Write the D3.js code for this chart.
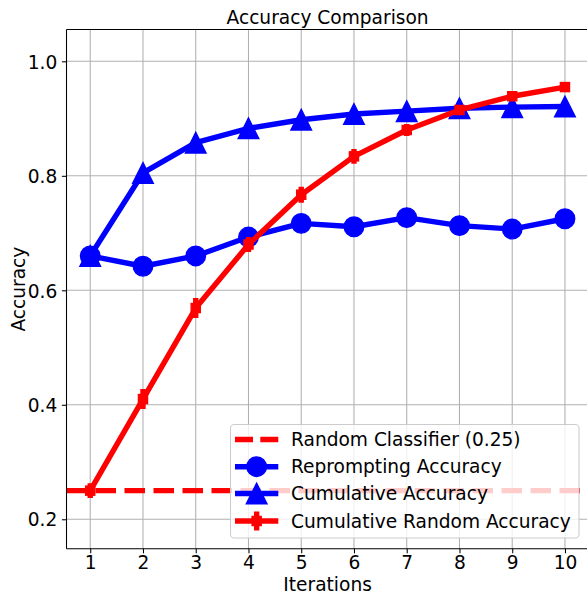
<!DOCTYPE html>
<html>
<head>
<meta charset="utf-8">
<script src="https://cdn.jsdelivr.net/npm/d3@7/dist/d3.min.js"></script>
<style>
  html, body { margin: 0; padding: 0; background: #fff; }
  svg { display: block; font-family: "DejaVu Sans", sans-serif; }
</style>
</head>
<body>
<svg id="chart" width="587" height="596"></svg>
<script>
// ---- data ----
const iterations = [1, 2, 3, 4, 5, 6, 7, 8, 9, 10];
const reprompting = [0.660, 0.642, 0.660, 0.693, 0.717, 0.711, 0.727, 0.713, 0.707, 0.725];
const cumulative = [0.660, 0.805, 0.858, 0.883, 0.898, 0.908, 0.913, 0.918, 0.920, 0.921];
const cumRandom = [0.250, 0.410, 0.569, 0.680, 0.767, 0.834, 0.880, 0.915, 0.939, 0.955];
const cumRandomErr = [0.013, 0.0175, 0.0175, 0.013, 0.014, 0.013, 0.0105, 0.007, 0.005, 0.004];
const randomBaseline = 0.25;
const yTicks = [0.2, 0.4, 0.6, 0.8, 1.0];
const xTicks = [1, 2, 3, 4, 5, 6, 7, 8, 9, 10];
const legendLabels = ["Random Classifier (0.25)", "Reprompting Accuracy", "Cumulative Accuracy", "Cumulative Random Accuracy"];
const titleText = "Accuracy Comparison";
const xLabel = "Iterations";
const yLabel = "Accuracy";

// ---- layout ----
const L = 66.5, T = 29.5, R = 588.7, B = 548.7;
const FS = 18.6;
const LW = 5.4;
const BLUE = "#0000ff", RED = "#ff0000";

const svg = d3.select("#chart");
const x = d3.scaleLinear().domain([0.55, 10.45]).range([L, R]);
const y = d3.scaleLinear().domain([0.1486, 1.0556]).range([B, T]);

svg.append("defs").append("clipPath").attr("id", "clip")
  .append("rect").attr("x", L).attr("y", T).attr("width", R - L).attr("height", B - T);

// grid
const grid = svg.append("g");
grid.selectAll(".gx").data(xTicks).enter().append("line")
  .attr("x1", d => x(d)).attr("x2", d => x(d)).attr("y1", T).attr("y2", B)
  .attr("stroke", "#b0b0b0").attr("stroke-width", 1.06);
grid.selectAll(".gy").data(yTicks).enter().append("line")
  .attr("x1", L).attr("x2", R).attr("y1", d => y(d)).attr("y2", d => y(d))
  .attr("stroke", "#b0b0b0").attr("stroke-width", 1.06);

// axes
const xAxis = svg.append("g").attr("transform", `translate(0,${B})`)
  .call(d3.axisBottom(x).tickValues(xTicks).tickSize(4.6).tickPadding(4.6).tickFormat(d3.format("d")));
const yAxis = svg.append("g").attr("transform", `translate(${L},0)`)
  .call(d3.axisLeft(y).tickValues(yTicks).tickSize(4.6).tickPadding(4.6).tickFormat(d3.format(".1f")));
[xAxis, yAxis].forEach(a => {
  a.select(".domain").remove();
  a.selectAll(".tick line").attr("stroke", "#000").attr("stroke-width", 1.06);
  a.selectAll(".tick text").attr("fill", "#000").style("font-size", FS + "px")
    .style("font-family", "DejaVu Sans, sans-serif");
});
xAxis.selectAll(".tick text").attr("dy", null).attr("y", 20.8);
yAxis.selectAll(".tick text").attr("dy", "0.36em");

const plot = svg.append("g").attr("clip-path", "url(#clip)");

// random classifier baseline
plot.append("line")
  .attr("x1", L).attr("x2", R).attr("y1", y(randomBaseline)).attr("y2", y(randomBaseline))
  .attr("stroke", RED).attr("stroke-width", LW).attr("stroke-dasharray", "20.5,8.5");

const line = d3.line().x((d, i) => x(iterations[i])).y(d => y(d));

// reprompting
plot.append("path").datum(reprompting).attr("d", line)
  .attr("fill", "none").attr("stroke", BLUE).attr("stroke-width", LW).attr("stroke-linejoin", "round");
plot.selectAll(".circ").data(reprompting).enter().append("circle")
  .attr("cx", (d, i) => x(iterations[i])).attr("cy", d => y(d)).attr("r", 9.8)
  .attr("fill", BLUE).attr("stroke", BLUE).attr("stroke-width", 1.3);

// cumulative
const tri = s => `M0,${-s}L${-s},${s}L${s},${s}Z`;
plot.append("path").datum(cumulative).attr("d", line)
  .attr("fill", "none").attr("stroke", BLUE).attr("stroke-width", LW).attr("stroke-linejoin", "round");
plot.selectAll(".tri").data(cumulative).enter().append("path")
  .attr("transform", (d, i) => `translate(${x(iterations[i])},${y(d)})`)
  .attr("d", tri(10.4)).attr("fill", BLUE).attr("stroke", BLUE).attr("stroke-width", 1.3);

// cumulative random with error bars
plot.append("path").datum(cumRandom).attr("d", line)
  .attr("fill", "none").attr("stroke", RED).attr("stroke-width", LW).attr("stroke-linejoin", "round");
plot.selectAll(".err").data(cumRandom).enter().append("line")
  .attr("x1", (d, i) => x(iterations[i])).attr("x2", (d, i) => x(iterations[i]))
  .attr("y1", (d, i) => y(d - cumRandomErr[i])).attr("y2", (d, i) => y(d + cumRandomErr[i]))
  .attr("stroke", RED).attr("stroke-width", LW);
plot.selectAll(".sq").data(cumRandom).enter().append("rect")
  .attr("x", (d, i) => x(iterations[i]) - 4.6).attr("y", d => y(d) - 4.6)
  .attr("width", 9.2).attr("height", 9.2)
  .attr("fill", RED).attr("stroke", RED).attr("stroke-width", 1.3);

// spines
svg.append("line").attr("x1", L).attr("x2", L).attr("y1", T).attr("y2", B).attr("stroke", "#000").attr("stroke-width", 1.06);
svg.append("line").attr("x1", L).attr("x2", R).attr("y1", B).attr("y2", B).attr("stroke", "#000").attr("stroke-width", 1.06);
svg.append("line").attr("x1", L).attr("x2", R).attr("y1", T).attr("y2", T).attr("stroke", "#000").attr("stroke-width", 1.06);
svg.append("line").attr("x1", R).attr("x2", R).attr("y1", T).attr("y2", B).attr("stroke", "#000").attr("stroke-width", 1.06);

// title and labels
svg.append("text").attr("x", (L + R) / 2).attr("y", 23.5).attr("text-anchor", "middle")
  .style("font-size", FS + "px").attr("fill", "#000").text(titleText);
svg.append("text").attr("x", (L + R) / 2).attr("y", 591).attr("text-anchor", "middle")
  .style("font-size", FS + "px").attr("fill", "#000").text(xLabel);
svg.append("text").attr("transform", `translate(24.5,${(T + B) / 2}) rotate(-90)`).attr("text-anchor", "middle")
  .style("font-size", FS + "px").attr("fill", "#000").text(yLabel);

// legend
const lg = svg.append("g");
lg.append("rect").attr("x", 230.5).attr("y", 424.5).attr("width", 348.5).attr("height", 113.5)
  .attr("rx", 3.7).attr("ry", 3.7)
  .attr("fill", "#fff").attr("fill-opacity", 0.8).attr("stroke", "#cccccc").attr("stroke-width", 1.06);
const rowY = [439.5, 466.7, 493.5, 521];
const hx1 = 235, hx2 = 278.3, hxc = (hx1 + hx2) / 2, tx = 291;
legendLabels.forEach((lab, i) => {
  const g = lg.append("g");
  const cy = rowY[i];
  const l = g.append("line").attr("x1", hx1).attr("x2", hx2).attr("y1", cy).attr("y2", cy)
    .attr("stroke", i === 0 || i === 3 ? RED : BLUE).attr("stroke-width", LW);
  if (i === 0) l.attr("stroke-dasharray", "18,7.3");
  if (i === 1) g.append("circle").attr("cx", hxc).attr("cy", cy).attr("r", 9.8).attr("fill", BLUE).attr("stroke", BLUE).attr("stroke-width", 1.3);
  if (i === 2) g.append("path").attr("transform", `translate(${hxc},${cy})`).attr("d", tri(10.4)).attr("fill", BLUE).attr("stroke", BLUE).attr("stroke-width", 1.3);
  if (i === 3) {
    g.append("line").attr("x1", hxc).attr("x2", hxc).attr("y1", cy - 9.5).attr("y2", cy + 9.5).attr("stroke", RED).attr("stroke-width", LW);
    g.append("rect").attr("x", hxc - 4.6).attr("y", cy - 4.6).attr("width", 9.2).attr("height", 9.2).attr("fill", RED).attr("stroke", RED).attr("stroke-width", 1.3);
  }
  g.append("text").attr("x", tx).attr("y", cy + 6.6).style("font-size", FS + "px").attr("fill", "#000").text(lab);
});
</script>
</body>
</html>
